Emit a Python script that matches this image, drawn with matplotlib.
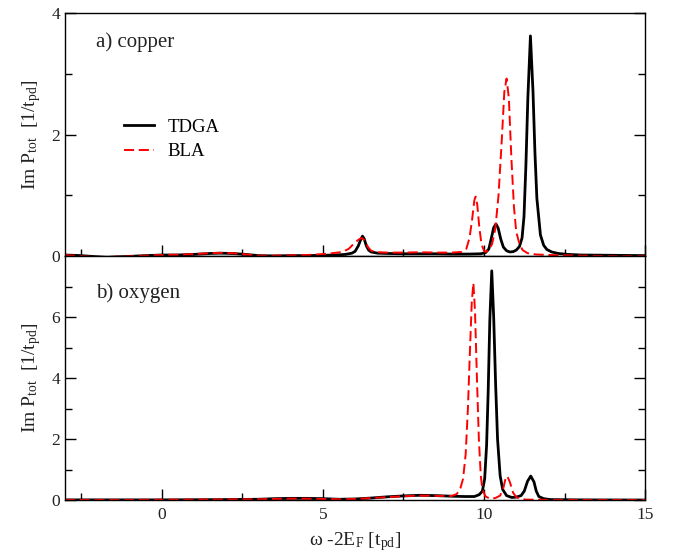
import matplotlib
matplotlib.use("Agg")
import matplotlib.pyplot as plt
from matplotlib.ticker import MultipleLocator

plt.rcParams['font.family'] = ['Liberation Serif', 'DejaVu Serif']
plt.rcParams['mathtext.fontset'] = 'custom'
plt.rcParams['mathtext.rm'] = 'Liberation Serif'
plt.rcParams['mathtext.it'] = 'Liberation Serif:italic'

# a) copper
cu_tdga_x = [-3.0, -2.5, -2.0, -1.7, -1.3, -0.5, 0.0, 0.5, 1.0, 1.5, 1.8, 2.2, 2.6, 3.0, 3.5,
             4.0, 4.5, 5.0, 5.4, 5.7, 5.9, 6.0, 6.1, 6.18, 6.23, 6.28, 6.35, 6.42, 6.5, 6.7,
             7.0, 7.5, 8.0, 8.5, 9.0, 9.5, 9.9, 10.05, 10.15, 10.22, 10.3, 10.37, 10.44, 10.52,
             10.6, 10.7, 10.8, 10.9, 11.0, 11.1, 11.18, 11.24, 11.30, 11.36, 11.44, 11.52,
             11.58, 11.64, 11.75, 11.85, 11.95, 12.1, 12.3, 12.6, 13.0, 14.0, 15.0]
cu_tdga_y = [0.02, 0.01, -0.01, -0.02, -0.01, 0.01, 0.02, 0.02, 0.03, 0.045, 0.05, 0.045, 0.03,
             0.01, 0.005, 0.01, 0.01, 0.015, 0.02, 0.03, 0.05, 0.08, 0.17, 0.28, 0.33, 0.29,
             0.17, 0.10, 0.07, 0.05, 0.045, 0.04, 0.04, 0.04, 0.035, 0.035, 0.04, 0.06, 0.12,
             0.28, 0.47, 0.53, 0.46, 0.28, 0.15, 0.09, 0.07, 0.075, 0.10, 0.16, 0.30, 0.65,
             1.5, 2.6, 3.62, 2.7, 1.7, 0.95, 0.35, 0.18, 0.11, 0.07, 0.045, 0.03, 0.02, 0.015,
             0.01]

cu_bla_x = [-3.0, -2.5, -2.0, -1.7, -1.3, -0.5, 0.0, 0.5, 1.0, 1.5, 1.8, 2.2, 2.6, 3.0, 3.5,
            4.0, 4.5, 5.0, 5.3, 5.6, 5.8, 5.95, 6.1, 6.2, 6.3, 6.4, 6.5, 6.7, 7.0, 7.5, 8.0,
            8.5, 9.0, 9.3, 9.45, 9.55, 9.63, 9.7, 9.74, 9.79, 9.85, 9.92, 10.0, 10.05, 10.15,
            10.25, 10.35, 10.45, 10.55, 10.63, 10.70, 10.77, 10.85, 10.93, 11.0, 11.1, 11.2,
            11.35, 11.6, 12.0, 13.0, 14.0, 15.0]
cu_bla_y = [0.02, 0.0, -0.01, -0.015, -0.005, 0.01, 0.02, 0.025, 0.035, 0.05, 0.055, 0.05, 0.03,
            0.01, 0.01, 0.015, 0.02, 0.035, 0.05, 0.07, 0.12, 0.20, 0.27, 0.30, 0.26, 0.15,
            0.09, 0.065, 0.06, 0.06, 0.065, 0.06, 0.06, 0.07, 0.12, 0.30, 0.60, 0.92, 0.98,
            0.85, 0.50, 0.20, 0.09, 0.07, 0.10, 0.20, 0.45, 1.0, 1.9, 2.7, 2.92, 2.6, 1.6, 0.8,
            0.40, 0.20, 0.10, 0.05, 0.03, 0.02, 0.01, 0.0, 0.0]

# b) oxygen
ox_tdga_x = [-3.0, -2.0, -1.0, 0.0, 1.0, 2.0, 3.0, 3.5, 4.0, 4.5, 5.0, 5.5, 6.0, 6.5, 7.0, 7.5,
             8.0, 8.5, 9.0, 9.4, 9.7, 9.85, 9.95, 10.02, 10.08, 10.13, 10.18, 10.24, 10.30,
             10.36, 10.42, 10.50, 10.58, 10.70, 10.86, 11.0, 11.15, 11.25, 11.35, 11.45, 11.55,
             11.62, 11.70, 11.85, 12.05, 13.0, 15.0]
ox_tdga_y = [0.01, 0.01, 0.01, 0.01, 0.015, 0.02, 0.03, 0.05, 0.06, 0.06, 0.05, 0.03, 0.04, 0.07,
             0.11, 0.14, 0.16, 0.15, 0.13, 0.12, 0.12, 0.18, 0.30, 0.70, 1.8, 3.6, 5.9, 7.52,
             6.0, 3.8, 2.0, 0.8, 0.35, 0.15, 0.09, 0.10, 0.15, 0.30, 0.62, 0.79, 0.60, 0.30,
             0.12, 0.05, 0.02, 0.01, 0.005]

ox_bla_x = [-3.0, -2.0, -1.0, 0.0, 1.0, 2.0, 3.0, 3.5, 4.0, 4.5, 5.0, 5.5, 6.0, 6.5, 7.0, 7.5,
            8.0, 8.5, 9.0, 9.15, 9.25, 9.35, 9.43, 9.50, 9.56, 9.62, 9.67, 9.72, 9.78, 9.84,
            9.90, 9.95, 10.05, 10.19, 10.35, 10.50, 10.60, 10.67, 10.72, 10.80, 10.90, 11.0,
            11.15, 11.3, 12.0, 15.0]
ox_bla_y = [0.01, 0.01, 0.01, 0.015, 0.02, 0.025, 0.03, 0.04, 0.05, 0.05, 0.04, 0.03, 0.04, 0.07,
            0.10, 0.13, 0.15, 0.14, 0.14, 0.20, 0.33, 0.70, 1.5, 3.0, 4.8, 6.5, 7.12, 6.2, 4.0,
            2.0, 0.8, 0.35, 0.12, 0.05, 0.07, 0.15, 0.40, 0.72, 0.79, 0.60, 0.25, 0.10, 0.04,
            0.02, 0.01, 0.005]

fig = plt.figure(figsize=(6.77, 5.57), dpi=100)
ax1 = fig.add_axes([0.096, 0.540, 0.857, 0.437])
ax2 = fig.add_axes([0.096, 0.102, 0.857, 0.438], sharex=ax1)

black_kw = dict(color='black', lw=2.0)
red_kw = dict(color='red', lw=1.4, dashes=(5.2, 2.4))

ax1.plot(cu_tdga_x, cu_tdga_y, label='TDGA', **black_kw)
ax1.plot(cu_bla_x, cu_bla_y, label='BLA', **red_kw)
ax2.plot(ox_tdga_x, ox_tdga_y, **black_kw)
ax2.plot(ox_bla_x, ox_bla_y, **red_kw)

ax1.set_xlim(-3, 15)
ax1.set_ylim(0, 4)
ax2.set_ylim(0, 8)

ax1.set_yticks([0, 2, 4])
ax1.yaxis.set_minor_locator(MultipleLocator(1))
ax2.set_yticks([0, 2, 4, 6])
ax2.set_yticks([1, 3, 5, 7], minor=True)
ax2.xaxis.set_major_locator(MultipleLocator(5))
ax2.xaxis.set_minor_locator(MultipleLocator(2.5))

for ax in (ax1, ax2):
    ax.tick_params(which='both', direction='in', right=True, top=False, labelsize=12.5,
                   labelcolor='#222222')
    ax.tick_params(which='major', length=8, width=1)
    ax.tick_params(which='minor', length=5, width=1)
    for s in ax.spines.values():
        s.set_linewidth(1.0)
    ax.set_ylabel(r'Im P$_{\mathrm{tot}}$  [1/t$_{\mathrm{pd}}$]', fontsize=14, labelpad=6,
                  color='#222222')
ax1.tick_params(labelbottom=False)
ax2.tick_params(axis='x', pad=5)

ax2.set_xlabel(r'$\mathrm{\omega}$ -2E$_{\mathrm{F}}$ [t$_{\mathrm{pd}}$]', fontsize=14, labelpad=5,
               color='#222222')

ax1.text(-2.05, 3.52, 'a) copper', fontsize=15, va='center', color='#222222')
ax2.text(-2.05, 6.8, 'b) oxygen', fontsize=15, va='center', color='#222222')

ax1.legend(loc='upper left', bbox_to_anchor=(0.072, 0.635), frameon=False, fontsize=13.5,
           handlelength=1.6, handletextpad=0.75, labelspacing=0.4)

fig.savefig('out.png', dpi=100)
